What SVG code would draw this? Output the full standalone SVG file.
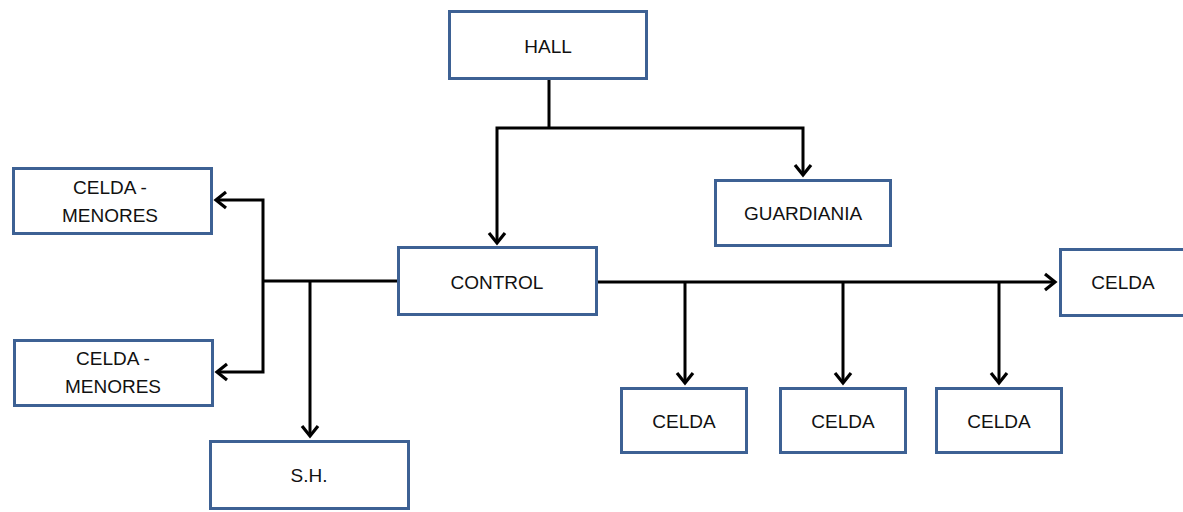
<svg xmlns="http://www.w3.org/2000/svg" width="1183" height="512" viewBox="0 0 1183 512">
<style>
.box{fill:#fff;stroke:#3d6194;stroke-width:3}
.lbl{font-family:"Liberation Sans",Arial,sans-serif;font-size:19px;fill:#111;text-anchor:middle}
.con{fill:none;stroke:#000;stroke-width:3}
</style>
<defs>
<marker id="arr" markerUnits="userSpaceOnUse" markerWidth="24" markerHeight="24" viewBox="-14 -12 18 24" refX="0" refY="0" orient="auto">
<path d="M-10,-8 L0,0 L-10,8" fill="none" stroke="#000" stroke-width="3.2" stroke-linejoin="miter"/>
</marker>
</defs>
<rect width="1183" height="512" fill="#fff"/>
<g id="connectors">
<path class="con" d="M549,80 V128"/>
<path class="con" d="M549,128 H497 V243" marker-end="url(#arr)"/>
<path class="con" d="M549,128 H803 V175" marker-end="url(#arr)"/>
<path class="con" d="M397,281 H263"/>
<path class="con" d="M263,281 V200 H216" marker-end="url(#arr)"/>
<path class="con" d="M263,281 V372 H217" marker-end="url(#arr)"/>
<path class="con" d="M310,281 V436" marker-end="url(#arr)"/>
<path class="con" d="M597,282 H1055" marker-end="url(#arr)"/>
<path class="con" d="M685,282 V383" marker-end="url(#arr)"/>
<path class="con" d="M843,282 V383" marker-end="url(#arr)"/>
<path class="con" d="M999,282 V383" marker-end="url(#arr)"/>
</g>
<g id="hall"><rect class="box" x="449.5" y="11.5" width="197" height="67"/><text class="lbl" x="548" y="53">HALL</text></g>
<g id="guardiania"><rect class="box" x="715.5" y="180.5" width="175" height="65"/><text class="lbl" x="803" y="220">GUARDIANIA</text></g>
<g id="control"><rect class="box" x="398.5" y="247.5" width="198" height="67"/><text class="lbl" x="497" y="289">CONTROL</text></g>
<g id="celda-menores-1"><rect class="box" x="13.5" y="168.5" width="198" height="65"/><text class="lbl" x="110" y="194">CELDA -</text><text class="lbl" x="110" y="222">MENORES</text></g>
<g id="celda-menores-2"><rect class="box" x="14.5" y="340.5" width="198" height="65"/><text class="lbl" x="113" y="365">CELDA -</text><text class="lbl" x="113" y="393">MENORES</text></g>
<g id="sh"><rect class="box" x="210.5" y="441.5" width="198" height="67"/><text class="lbl" x="309" y="482">S.H.</text></g>
<g id="celda-r"><rect class="box" x="1060.5" y="249.5" width="126" height="66"/><text class="lbl" x="1123" y="289">CELDA</text></g>
<g id="celda-1"><rect class="box" x="621.5" y="388.5" width="125" height="64"/><text class="lbl" x="684" y="428">CELDA</text></g>
<g id="celda-2"><rect class="box" x="780.5" y="388.5" width="125" height="64"/><text class="lbl" x="843" y="428">CELDA</text></g>
<g id="celda-3"><rect class="box" x="936.5" y="388.5" width="125" height="64"/><text class="lbl" x="999" y="428">CELDA</text></g>
</svg>
